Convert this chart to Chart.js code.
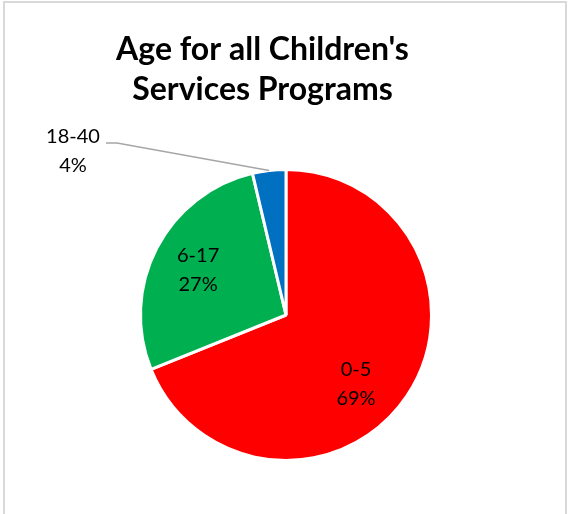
<!DOCTYPE html>
<html><head><meta charset="utf-8">
<script src="https://cdn.jsdelivr.net/npm/chart.js@4/dist/chart.umd.min.js"></script>
<style>
html,body{margin:0;padding:0;background:#fff;}
#wrap{position:relative;width:569px;height:514px;overflow:hidden;}
#frame{position:absolute;left:3px;top:1px;width:560px;height:530px;border:2px solid #d9d9d9;border-bottom:none;}
canvas{position:absolute;left:0;top:0;}
</style></head><body>
<div id="wrap"><div id="frame"></div><canvas id="c" width="569" height="514"></canvas></div>
<script>
const titleLines = ["Age for all Children's", "Services Programs"];
const categories = ["0-5", "6-17", "18-40"];
const values = [68.9, 27.4, 3.7];
const colors = ["#FF0000", "#00B050", "#0070C0"];

const FONT = "Lato, 'Open Sans', sans-serif";

const titlePlugin = {
  id: 'xlTitle',
  afterDraw(chart) {
    const ctx = chart.ctx;
    ctx.save();
    ctx.fillStyle = '#000';
    ctx.font = "bold 32px " + FONT;
    ctx.textAlign = 'center';
    ctx.textBaseline = 'alphabetic';
    ctx.fillText(titleLines[0], 262.5, 60);
    ctx.fillText(titleLines[1], 262.5, 100);
    ctx.restore();
  }
};

const labelPlugin = {
  id: 'xlLabels',
  afterDatasetsDraw(chart) {
    const ctx = chart.ctx;
    const meta = chart.getDatasetMeta(0);
    const data = chart.data.datasets[0].data;
    const total = data.reduce((a, b) => a + b, 0);
    ctx.save();
    ctx.fillStyle = '#000';
    ctx.font = "20px " + FONT;
    ctx.textAlign = 'center';
    ctx.textBaseline = 'alphabetic';
    meta.data.forEach((arc, i) => {
      const p = arc.getProps(['x', 'y', 'startAngle', 'endAngle', 'outerRadius'], true);
      const mid = (p.startAngle + p.endAngle) / 2;
      const pct = Math.round(data[i] / total * 100) + '%';
      const lab = chart.data.labels[i];
      const cos = Math.cos(mid), sin = Math.sin(mid);
      if (i === 2) {
        const ex = p.x + cos * p.outerRadius, ey = p.y + sin * p.outerRadius;
        const tx = 73, ty = 143;
        ctx.strokeStyle = '#a6a6a6';
        ctx.lineWidth = 1.5;
        ctx.beginPath();
        ctx.moveTo(ex, ey);
        ctx.lineTo(tx + 44, ty);
        ctx.lineTo(tx + 33, ty);
        ctx.stroke();
        ctx.fillText(lab, tx, ty);
        ctx.fillText(pct, tx, ty + 29);
      } else {
        let cx = p.x + cos * p.outerRadius * 0.68;
        let cy = p.y + sin * p.outerRadius * 0.68;
        if (i === 0) { cx -= 12; cy += 13; }
        ctx.fillText(lab, cx, cy - 7.5);
        ctx.fillText(pct, cx, cy + 21.5);
      }
    });
    ctx.restore();
  }
};

new Chart(document.getElementById('c'), {
  type: 'pie',
  data: {
    labels: categories,
    datasets: [{
      data: values,
      backgroundColor: colors,
      borderColor: '#ffffff',
      borderWidth: 3,
      hoverOffset: 0
    }]
  },
  options: {
    responsive: false,
    animation: false,
    radius: 145.5,
    layout: { padding: { top: 170, bottom: 54, left: 120, right: 117 } },
    plugins: {
      legend: { display: false },
      title: { display: false },
      tooltip: { enabled: false }
    },
    events: []
  },
  plugins: [titlePlugin, labelPlugin]
});
</script>
</body></html>
